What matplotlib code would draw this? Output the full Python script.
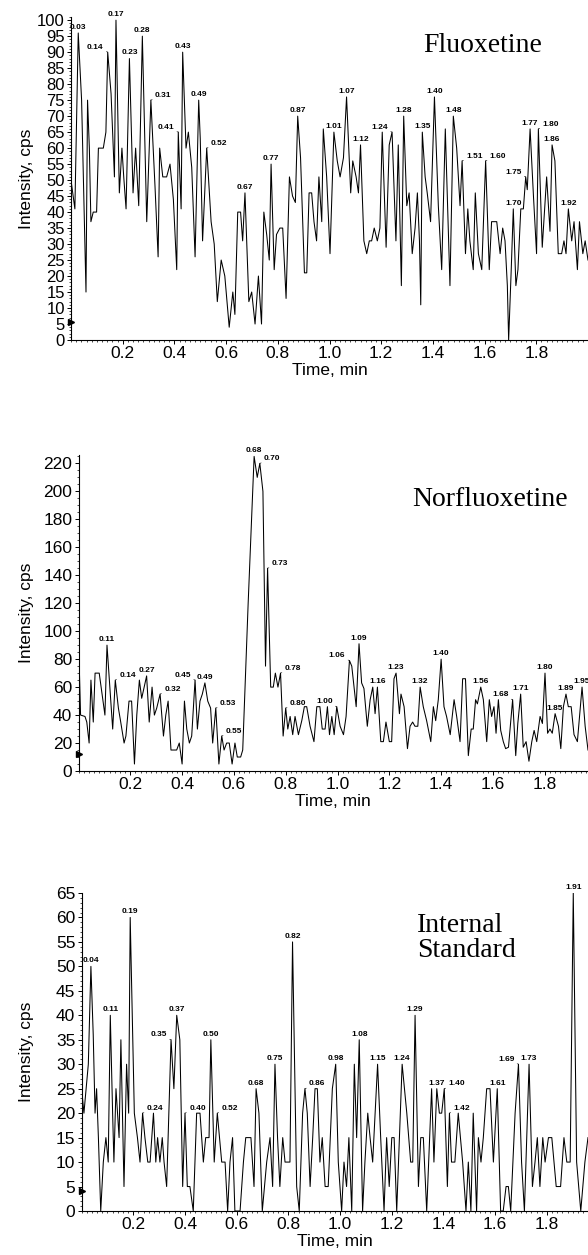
import numpy as np
import matplotlib
matplotlib.use("Agg")
import matplotlib.pyplot as plt
from matplotlib.ticker import MultipleLocator

# ---- Fluoxetine trace (time in min, intensity in cps)
flx_time = [0.000, 0.015, 0.028, 0.041, 0.058, 0.064, 0.071, 0.077, 0.086, 0.099, 0.106, 0.125, 0.135, 0.142,
            0.155, 0.168, 0.174, 0.187, 0.197, 0.204, 0.213, 0.226, 0.240, 0.250, 0.262, 0.276, 0.293, 0.309,
            0.325, 0.337, 0.343, 0.355, 0.370, 0.383, 0.396, 0.409, 0.415, 0.426, 0.432, 0.445, 0.454, 0.467,
            0.480, 0.494, 0.500, 0.509, 0.525, 0.542, 0.554, 0.566, 0.581, 0.595, 0.612, 0.626, 0.634, 0.645,
            0.656, 0.664, 0.673, 0.688, 0.699, 0.712, 0.725, 0.737, 0.746, 0.757, 0.767, 0.774, 0.786, 0.795,
            0.808, 0.819, 0.832, 0.845, 0.857, 0.868, 0.877, 0.888, 0.903, 0.912, 0.921, 0.931, 0.940, 0.950,
            0.959, 0.970, 0.976, 0.989, 1.002, 1.017, 1.030, 1.041, 1.054, 1.066, 1.082, 1.090, 1.103, 1.112,
            1.120, 1.133, 1.144, 1.154, 1.163, 1.173, 1.185, 1.195, 1.204, 1.219, 1.231, 1.242, 1.257, 1.266,
            1.278, 1.287, 1.299, 1.308, 1.320, 1.331, 1.340, 1.348, 1.353, 1.359, 1.370, 1.378, 1.391, 1.406,
            1.421, 1.434, 1.448, 1.466, 1.479, 1.492, 1.505, 1.513, 1.526, 1.535, 1.543, 1.556, 1.564, 1.576,
            1.589, 1.604, 1.618, 1.627, 1.647, 1.660, 1.670, 1.679, 1.688, 1.693, 1.703, 1.711, 1.721, 1.729,
            1.740, 1.750, 1.759, 1.765, 1.776, 1.789, 1.801, 1.808, 1.823, 1.840, 1.853, 1.861, 1.872, 1.885,
            1.898, 1.907, 1.915, 1.924, 1.937, 1.946, 1.959, 1.967, 1.980, 1.989, 2.000]
flx_cps = [50, 41, 96, 75, 15, 75, 60, 37, 40, 40, 60, 60, 65, 90,
           77, 51, 100, 46, 60, 51, 41, 88, 46, 60, 42, 95, 37, 75,
           48, 26, 60, 51, 51, 55, 44, 22, 65, 41, 90, 60, 65, 54,
           26, 75, 63, 31, 60, 37, 30, 12, 25, 20, 4, 15, 8, 40,
           40, 31, 46, 12, 15, 5, 20, 5, 40, 33, 25, 55, 22, 33,
           35, 35, 13, 51, 45, 43, 70, 57, 21, 21, 46, 46, 37, 31,
           51, 37, 66, 51, 27, 65, 56, 51, 57, 76, 46, 56, 51, 46,
           61, 31, 27, 31, 31, 35, 31, 35, 65, 29, 61, 65, 31, 61,
           17, 70, 42, 46, 27, 35, 46, 31, 11, 65, 51, 46, 37, 76,
           42, 22, 66, 17, 70, 60, 42, 56, 27, 41, 31, 22, 46, 27,
           22, 56, 22, 37, 37, 27, 35, 31, 17, 0, 22, 41, 17, 22,
           41, 41, 51, 47, 66, 45, 27, 66, 29, 51, 34, 61, 56, 27,
           27, 31, 27, 41, 31, 37, 22, 37, 27, 31, 25]
flx_labels = ["0.03", "0.14", "0.17", "0.23", "0.28", "0.31", "0.41", "0.43", "0.49", "0.52", "0.67",
              "0.77", "0.87", "1.01", "1.07", "1.12", "1.24", "1.28", "1.35", "1.40", "1.48", "1.51",
              "1.60", "1.70", "1.75", "1.77", "1.80", "1.86", "1.92"]
flx_left = ["0.14", "0.41", "1.24", "1.75"]
flx_right = ["0.31", "0.52", "1.51", "1.60", "1.80"]

# ---- Norfluoxetine trace
nor_time = [0.000, 0.008, 0.025, 0.032, 0.041, 0.048, 0.057, 0.064, 0.080, 0.102, 0.110, 0.132, 0.142, 0.154,
            0.163, 0.176, 0.183, 0.195, 0.205, 0.216, 0.225, 0.235, 0.244, 0.263, 0.273, 0.284, 0.293, 0.302,
            0.315, 0.328, 0.337, 0.346, 0.357, 0.379, 0.389, 0.400, 0.409, 0.418, 0.428, 0.437, 0.450, 0.459,
            0.469, 0.478, 0.488, 0.499, 0.510, 0.518, 0.530, 0.542, 0.553, 0.562, 0.572, 0.582, 0.593, 0.604,
            0.613, 0.626, 0.634, 0.655, 0.678, 0.690, 0.700, 0.712, 0.722, 0.730, 0.742, 0.752, 0.760, 0.770,
            0.780, 0.790, 0.800, 0.808, 0.817, 0.827, 0.836, 0.849, 0.862, 0.872, 0.881, 0.894, 0.909, 0.920,
            0.932, 0.941, 0.952, 0.961, 0.969, 0.978, 0.987, 0.997, 1.010, 1.023, 1.033, 1.046, 1.055, 1.072,
            1.083, 1.093, 1.102, 1.115, 1.126, 1.136, 1.145, 1.154, 1.167, 1.177, 1.187, 1.200, 1.209, 1.218,
            1.226, 1.239, 1.245, 1.257, 1.270, 1.280, 1.290, 1.299, 1.310, 1.319, 1.331, 1.344, 1.360, 1.370,
            1.379, 1.389, 1.400, 1.411, 1.421, 1.435, 1.450, 1.460, 1.473, 1.483, 1.494, 1.505, 1.516, 1.524,
            1.533, 1.540, 1.553, 1.563, 1.576, 1.586, 1.595, 1.604, 1.612, 1.621, 1.630, 1.640, 1.649, 1.660,
            1.676, 1.688, 1.696, 1.707, 1.717, 1.728, 1.739, 1.750, 1.759, 1.769, 1.782, 1.791, 1.801, 1.811,
            1.820, 1.829, 1.840, 1.853, 1.862, 1.872, 1.882, 1.891, 1.902, 1.913, 1.926, 1.944, 1.956, 1.967]
nor_cps = [95, 40, 39, 35, 20, 65, 35, 70, 70, 40, 90, 30, 65, 45,
           35, 20, 25, 50, 50, 5, 40, 65, 52, 68, 35, 60, 40, 45,
           55, 25, 40, 50, 15, 15, 20, 5, 50, 30, 20, 25, 65, 30,
           50, 55, 63, 50, 45, 20, 45, 5, 25, 15, 20, 20, 5, 20,
           10, 10, 15, 120, 225, 210, 220, 200, 75, 145, 60, 60, 70, 60,
           70, 25, 45, 30, 39, 26, 39, 26, 36, 46, 46, 32, 21, 46,
           46, 30, 30, 46, 26, 39, 26, 46, 32, 26, 39, 79, 75, 46,
           91, 63, 59, 32, 51, 60, 41, 60, 21, 21, 35, 21, 21, 66,
           70, 41, 55, 46, 16, 32, 35, 32, 32, 60, 46, 36, 21, 46,
           36, 51, 80, 46, 39, 26, 51, 39, 21, 66, 66, 11, 30, 30,
           51, 48, 60, 51, 21, 51, 39, 46, 27, 51, 29, 21, 16, 17,
           51, 11, 34, 55, 17, 21, 7, 21, 29, 21, 39, 34, 70, 27,
           30, 27, 41, 32, 16, 46, 55, 46, 46, 26, 21, 60, 32, 15]
nor_labels = ["0.11", "0.14", "0.27", "0.32", "0.45", "0.49", "0.53", "0.55", "0.68", "0.70", "0.73",
              "0.78", "0.80", "1.00", "1.06", "1.09", "1.16", "1.23", "1.32", "1.40", "1.56", "1.68",
              "1.71", "1.80", "1.85", "1.89", "1.95"]
nor_left = ["0.45", "1.00", "1.06", "1.68"]
nor_right = ["0.14", "0.32", "0.53", "0.55", "0.70", "0.73", "0.78", "0.80"]

# ---- Internal standard trace
ist_time = [0.000, 0.009, 0.026, 0.036, 0.045, 0.052, 0.058, 0.065, 0.074, 0.084, 0.094, 0.103, 0.111, 0.120,
            0.125, 0.133, 0.139, 0.145, 0.152, 0.164, 0.174, 0.182, 0.188, 0.204, 0.216, 0.226, 0.236, 0.245,
            0.256, 0.265, 0.278, 0.287, 0.294, 0.303, 0.312, 0.319, 0.329, 0.346, 0.357, 0.368, 0.380, 0.391,
            0.400, 0.409, 0.419, 0.432, 0.445, 0.458, 0.471, 0.480, 0.493, 0.500, 0.513, 0.525, 0.542, 0.555,
            0.565, 0.574, 0.584, 0.593, 0.613, 0.626, 0.635, 0.655, 0.667, 0.675, 0.686, 0.699, 0.716, 0.729,
            0.739, 0.748, 0.758, 0.767, 0.778, 0.787, 0.806, 0.816, 0.832, 0.842, 0.855, 0.864, 0.873, 0.884,
            0.894, 0.903, 0.912, 0.922, 0.931, 0.942, 0.954, 0.970, 0.983, 0.993, 1.006, 1.015, 1.025, 1.034,
            1.045, 1.055, 1.064, 1.074, 1.087, 1.096, 1.107, 1.116, 1.126, 1.145, 1.157, 1.170, 1.180, 1.190,
            1.200, 1.209, 1.219, 1.240, 1.258, 1.273, 1.281, 1.290, 1.303, 1.312, 1.322, 1.335, 1.354, 1.363,
            1.374, 1.384, 1.393, 1.403, 1.415, 1.423, 1.431, 1.444, 1.457, 1.474, 1.487, 1.496, 1.506, 1.515,
            1.528, 1.535, 1.545, 1.554, 1.567, 1.580, 1.593, 1.608, 1.621, 1.631, 1.642, 1.651, 1.660, 1.677,
            1.690, 1.702, 1.713, 1.731, 1.744, 1.754, 1.763, 1.773, 1.784, 1.793, 1.806, 1.819, 1.836, 1.853,
            1.866, 1.877, 1.890, 1.902, 1.915, 1.931, 1.947, 1.959]
ist_cps = [25, 20, 30, 50, 36, 20, 25, 15, 0, 10, 15, 10, 40, 20,
           10, 25, 20, 15, 35, 5, 30, 20, 60, 20, 15, 10, 20, 15,
           10, 10, 20, 10, 15, 10, 15, 10, 5, 35, 25, 40, 35, 5,
           20, 5, 5, 0, 20, 20, 10, 15, 15, 35, 10, 20, 10, 10,
           0, 10, 15, 0, 0, 10, 15, 15, 5, 25, 20, 0, 10, 15,
           5, 30, 15, 5, 15, 10, 10, 55, 5, 0, 20, 25, 20, 5,
           15, 25, 25, 10, 15, 5, 5, 25, 30, 10, 0, 10, 5, 15,
           0, 30, 15, 35, 0, 10, 20, 15, 10, 30, 15, 0, 15, 5,
           15, 15, 0, 30, 20, 10, 10, 40, 5, 15, 15, 0, 25, 10,
           25, 20, 20, 25, 5, 20, 10, 10, 20, 10, 0, 10, 0, 20,
           0, 15, 10, 15, 25, 25, 10, 25, 0, 0, 5, 5, 0, 20,
           30, 10, 0, 30, 5, 10, 15, 5, 15, 10, 15, 15, 5, 5,
           15, 10, 10, 65, 10, 0, 10, 15]
ist_labels = ["0.04", "0.11", "0.19", "0.24", "0.35", "0.37", "0.40", "0.50", "0.52", "0.68", "0.75",
              "0.82", "0.86", "0.98", "1.08", "1.15", "1.24", "1.29", "1.37", "1.40", "1.42", "1.61",
              "1.69", "1.73", "1.91"]
ist_left = ["0.35", "1.69"]
ist_right = ["0.24", "0.40", "0.52", "0.86", "1.40", "1.42"]

plt.rcParams['font.family'] = ['Liberation Sans', 'DejaVu Sans']

W, H = 588, 1255
fig = plt.figure(figsize=(W / 100, H / 100), dpi=100)


def peak_index(t, v, label):
    near = np.where(np.abs(t - float(label)) <= 0.015)[0]
    return near[np.argmax(v[near])]


def draw_panel(rect, times, cps, labels, left, right, xmax, ymax, ystep, yminor,
               ytick_size, title, title_xy, title_ha, marker_level):
    t = np.array(times)
    v = np.array(cps, dtype=float)
    ax = fig.add_axes(rect)
    ax.plot(t, v, color='black', lw=0.75)
    ax.set_xlim(0, xmax)
    ax.set_ylim(0, ymax)
    ax.spines['top'].set_visible(False)
    ax.spines['right'].set_visible(False)
    ax.spines['left'].set_linewidth(0.8)
    ax.spines['bottom'].set_linewidth(0.8)
    ax.set_xticks(np.arange(0.2, 1.81, 0.2))
    ax.set_xticklabels(["%.1f" % x for x in np.arange(0.2, 1.81, 0.2)])
    ax.xaxis.set_minor_locator(MultipleLocator(0.02))
    ax.set_yticks(np.arange(0, ymax + 0.1, ystep))
    ax.yaxis.set_minor_locator(MultipleLocator(yminor))
    ax.tick_params(which='major', direction='out', length=3, width=0.7, pad=1.5)
    ax.tick_params(which='minor', direction='out', length=1.5, width=0.5)
    ax.tick_params(axis='x', labelsize=12.5)
    ax.tick_params(axis='y', labelsize=ytick_size)
    ax.set_xlabel("Time, min", fontsize=12.5, labelpad=1)
    # small start-of-run arrow on the y axis
    ax.plot([0], [marker_level], marker='>', ms=4, color='black', clip_on=False)

    for lab in labels:
        i = peak_index(t, v, lab)
        if lab in left:
            ax.annotate(lab, (t[i], v[i]), xytext=(-3, 1), textcoords='offset points',
                        ha='right', va='bottom', fontsize=6, fontweight='bold',
                        arrowprops=dict(arrowstyle='-', lw=0.4, shrinkA=0, shrinkB=0))
        elif lab in right:
            ax.annotate(lab, (t[i], v[i]), xytext=(3, 1), textcoords='offset points',
                        ha='left', va='bottom', fontsize=6, fontweight='bold',
                        arrowprops=dict(arrowstyle='-', lw=0.4, shrinkA=0, shrinkB=0))
        else:
            ax.annotate(lab, (t[i], v[i]), xytext=(0, 1.5), textcoords='offset points',
                        ha='center', va='bottom', fontsize=6, fontweight='bold')

    fig.text(26 / W, rect[1] + rect[3] / 2, "Intensity, cps", rotation=90,
             ha='center', va='center', fontsize=12.5)
    fig.text(title_xy[0], title_xy[1], title, ha=title_ha, va='center',
             fontsize=20, family='Liberation Serif', linespacing=0.95)
    return ax


draw_panel([71 / W, 1 - 340 / H, 1 - 71 / W, (340 - 17) / H], flx_time, flx_cps, flx_labels,
           flx_left, flx_right, 2.0, 101, 5, 1, 12, "Fluoxetine", (483 / W, 1 - 45 / H), 'center', 5.5)
draw_panel([78.5 / W, 1 - 771 / H, 1 - 78.5 / W, (771 - 455) / H], nor_time, nor_cps, nor_labels,
           nor_left, nor_right, 1.967, 226, 20, 5, 12.5, "Norfluoxetine", (490 / W, 1 - 500 / H), 'center', 12)
draw_panel([81.6 / W, 1 - 1211 / H, 1 - 81.6 / W, (1211 - 893) / H], ist_time, ist_cps, ist_labels,
           ist_left, ist_right, 1.959, 65, 5, 1, 12.5, "Internal\nStandard", (417 / W, 1 - 938 / H), 'left', 4)

fig.savefig("out.png", dpi=100)
